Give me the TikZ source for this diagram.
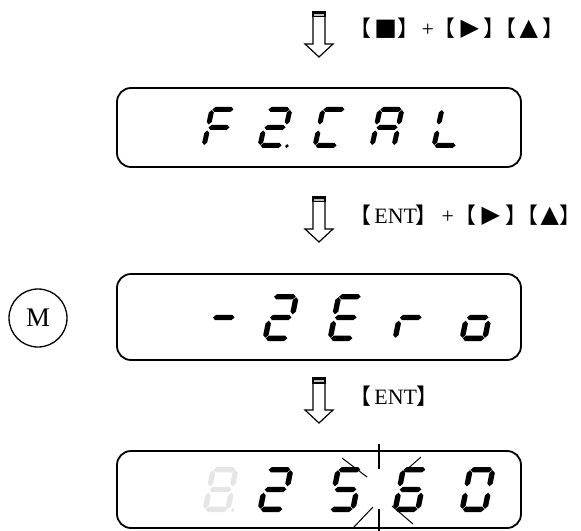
\documentclass[tikz,border=0pt]{standalone}
\usepackage{fontspec}
\setmainfont{Liberation Serif}
\newfontfamily\cjkfont{Noto Sans CJK SC}
\newfontfamily\symfont{DejaVu Sans}
\newcommand\hseg[1]{\fill ({\segg+\segt},{-(#1)}) -- ({\segg+2*\segt},{-(#1)-\segt}) -- ({\segw-\segg-2*\segt},{-(#1)-\segt}) -- ({\segw-\segg-\segt},{-(#1)}) -- ({\segw-\segg-2*\segt},{-(#1)+\segt}) -- ({\segg+2*\segt},{-(#1)+\segt}) -- cycle;}
\newcommand\vseg[3]{\fill ({#1},{-(#2)-\segg-\segt}) -- ({#1+\segt},{-(#2)-\segg-2*\segt}) -- ({#1+\segt},{-(#3)+\segg+2*\segt}) -- ({#1},{-(#3)+\segg+\segt}) -- ({#1-\segt},{-(#3)+\segg+2*\segt}) -- ({#1-\segt},{-(#2)-\segg-2*\segt}) -- cycle;}
\newcommand\sgA{\hseg{\segh-\segt}}
\newcommand\sgG{\hseg{\segh/2}}
\newcommand\sgD{\hseg{\segt}}
\newcommand\sgF{\vseg{\segt}{\segh/2}{\segh}}
\newcommand\sgB{\vseg{\segw-\segt}{\segh/2}{\segh}}
\newcommand\sgE{\vseg{\segt}{0}{\segh/2}}
\newcommand\sgC{\vseg{\segw-\segt}{0}{\segh/2}}
\newcommand\sgP{\fill ({\segw+2.5},{-1.9}) circle (1.9);}
\newcommand\segthick{2.5}
\newcommand\segslant{0.2}
\newcommand\sevenseg[6]{\begin{scope}[shift={(#1,#2)}, xslant=\segslant, fill=#5]\def\segw{#3}\def\segh{#4}\def\segt{\segthick}\def\segg{0.5}#6\end{scope}}
\newcommand\blockarrow[2]{%
 \draw[line width=1.2bp, fill=white] ({#1-6},#2) -- ({#1-6},{#2+32}) -- ({#1-14},{#2+32}) -- (#1,{#2+45}) -- ({#1+14},{#2+32}) -- ({#1+6},{#2+32}) -- ({#1+6},#2) -- cycle;
 \fill ({#1-6.6},{#2-0.6}) rectangle ({#1+6.6},{#2+5.5});
 \draw[gray!50, line width=1.3bp] ({#1-4.6},{#2+3}) -- ({#1+4.6},{#2+3});}
% glyph placed with its box centred at absolute x (label nodes start at x=340)
\newcommand\gl[2]{\rlap{\hspace*{\dimexpr#1bp-340bp\relax}\makebox[0pt]{#2}}}
\newcommand\opb[1]{\gl{#1}{\cjkfont 【}}
\newcommand\clb[1]{\gl{#1}{\cjkfont 】}}
\newcommand\symc[2]{\gl{#1}{\raisebox{\dimexpr 8bp-(\height-\depth)/2\relax}{\symfont\fontsize{24}{27}\selectfont #2}}}
\begin{document}
\begin{tikzpicture}[x=1bp, y=-1bp,
 disp/.style={draw, line width=1.8bp, rounded corners=14bp, minimum width=404bp, inner sep=0pt},
 keylabel/.style={inner sep=0pt, anchor=base west, font=\fontsize{22}{24}\selectfont},
 blink/.style={line width=1bp},
 blinkv/.style={line width=2.2bp}]
\useasboundingbox (0,0) rectangle (581,531);
% display boxes
\node[disp, minimum height=79bp] (d1) at (319,127.5) {};
\node[disp, minimum height=86bp] (d2) at (319,317) {};
\node[disp, minimum height=77bp] (d3) at (319,489.5) {};
% M circle
\node[circle, draw, line width=1.3bp, minimum size=58bp, inner sep=0pt, font=\fontsize{27}{30}\selectfont] (m) at (38,318) {M};
% arrows
\blockarrow{319}{12}
\blockarrow{319}{197}
\blockarrow{319}{378}
% key labels
\node[keylabel] (k1) at (340,37) {\opb{360}\symc{385}{■}\clb{408}\gl{427}{+}\opb{444}\symc{469}{▶}\clb{494}\opb{505}\symc{528}{▲}\clb{553}};
\node[keylabel] (k2) at (340,224) {\opb{360}\gl{395}{ENT}\clb{426}\gl{447}{+}\opb{465}\symc{490}{▶}\clb{516}\opb{527}\symc{549}{▲}\clb{570}};
\node[keylabel] (k3) at (340,404) {\opb{360}\gl{395}{ENT}\clb{427}};
% display 1: F2.CAL
\renewcommand\segthick{2.5}\renewcommand\segslant{0.22}
\sevenseg{201}{148}{27}{41}{black}{\sgA\sgF\sgG\sgE}
\sevenseg{257}{148}{27}{41}{black}{\sgA\sgB\sgG\sgE\sgD\sgP}
\sevenseg{312}{148}{27}{41}{black}{\sgA\sgF\sgE\sgD}
\sevenseg{369}{148}{27}{41}{black}{\sgA\sgB\sgC\sgE\sgF\sgG}
\sevenseg{431}{148}{27}{41}{black}{\sgF\sgE\sgD}
% display 2: -2Ero
\renewcommand\segthick{2.7}\renewcommand\segslant{0.2}
\sevenseg{205}{341}{28}{47}{black}{\sgG}
\sevenseg{262}{341}{28}{47}{black}{\sgA\sgB\sgG\sgE\sgD}
\sevenseg{327}{341}{28}{47}{black}{\sgA\sgF\sgG\sgE\sgD}
\sevenseg{392}{341}{28}{47}{black}{\sgE\sgG}
\sevenseg{459}{341}{28}{47}{black}{\sgC\sgD\sgE\sgG}
% display 3: 8.2560
\sevenseg{202}{512}{28}{45}{black!10}{\sgA\sgB\sgC\sgD\sgE\sgF\sgG\sgP}
\sevenseg{257}{512}{28}{45}{black}{\sgA\sgB\sgG\sgE\sgD}
\sevenseg{327}{512}{28}{45}{black}{\sgA\sgF\sgG\sgC\sgD}
\sevenseg{392}{512}{28}{45}{black}{\sgA\sgF\sgG\sgE\sgD\sgC}
\sevenseg{459}{512}{28}{45}{black}{\sgA\sgB\sgC\sgD\sgE\sgF}
% blink marks
\draw[blinkv] (379,444) -- (379,469);
\draw[blinkv] (379,509) -- (379,531);
\draw[blink] (342,458) -- (367,477);
\draw[blink] (421,457) -- (404,472);
\draw[blink] (373,507) -- (353,528);
\draw[blink] (392,506) -- (413,524);
\end{tikzpicture}
\end{document}
